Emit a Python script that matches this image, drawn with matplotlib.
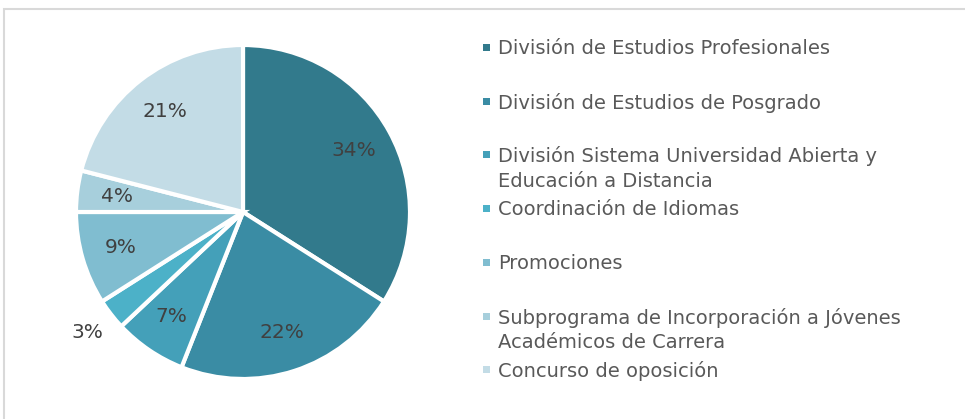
import matplotlib
matplotlib.use("Agg")
import matplotlib.pyplot as plt
from matplotlib.patches import Rectangle

categories = [
    "División de Estudios Profesionales",
    "División de Estudios de Posgrado",
    "División Sistema Universidad Abierta y\nEducación a Distancia",
    "Coordinación de Idiomas",
    "Promociones",
    "Subprograma de Incorporación a Jóvenes\nAcadémicos de Carrera",
    "Concurso de oposición",
]
values = [34, 22, 7, 3, 9, 4, 21]
colors = ["#327a8c", "#3a8ca4", "#44a0b9", "#4cb1c8", "#80bdd0", "#a7cfdc", "#c3dce6"]

W, H = 965, 419
fig = plt.figure(figsize=(W / 100, H / 100), dpi=100)
fig.patch.set_facecolor("white")

# border
fig.patches.append(Rectangle((4 / W, -0.1), 1.2, 1.1 - 9 / H, transform=fig.transFigure,
                             fill=False, edgecolor="#d9d9d9", linewidth=1.5, zorder=0))

cx, cy, r = 243, 212, 167
ax = fig.add_axes([(cx - r) / W, 1 - (cy + r) / H, 2 * r / W, 2 * r / H])
wedges, texts = ax.pie(values, colors=colors, startangle=90, counterclock=False,
                       wedgeprops=dict(edgecolor="white", linewidth=3),
                       labels=[f"{v}%" for v in values], labeldistance=0.76,
                       textprops=dict(fontsize=14.5, color="#404040"))
for t, v in zip(texts, values):
    t.set_ha("center")
    t.set_va("center")
    if v == 3:
        x, y = t.get_position()
        t.set_position((x / 0.76 * 1.18, y / 0.76 * 1.18))
ax.set_aspect("equal")
ax.set_xlim(-1, 1)
ax.set_ylim(-1, 1)
ax.axis("off")

# legend
y0, pitch = 47.5, 53.7
for i, (lab, c) in enumerate(zip(categories, colors)):
    y = y0 + pitch * i
    fig.patches.append(Rectangle((482.5 / W, 1 - (y + 3.5) / H), 7 / W, 7 / H,
                                 transform=fig.transFigure, facecolor=c, edgecolor="none"))
    fig.text(498 / W, 1 - (y - 8.5) / H, lab, fontsize=14, color="#595959", ha="left", va="top",
             transform=fig.transFigure, linespacing=1.35)

fig.savefig("out.png", dpi=100)
